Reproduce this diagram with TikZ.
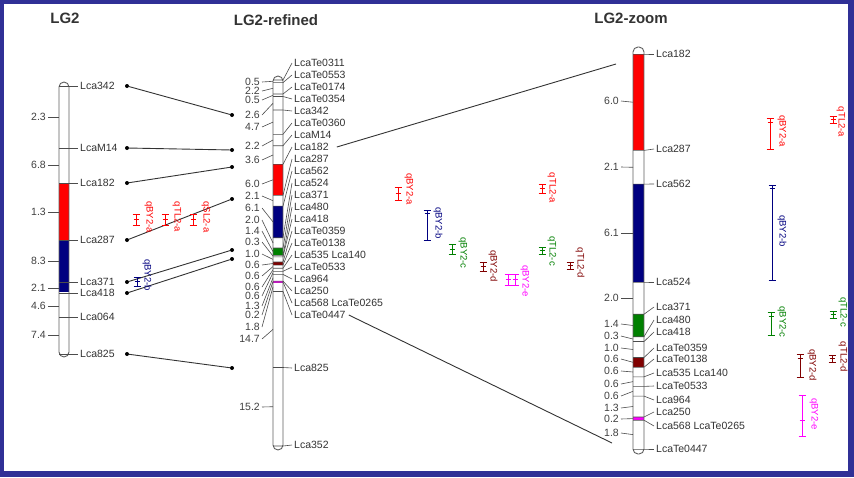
\documentclass[tikz,border=0pt]{standalone}
\usepackage{fontspec}
\setmainfont{Liberation Sans}

\definecolor{frameblue}{RGB}{48,48,150}
\definecolor{qred}{RGB}{255,0,0}
\definecolor{qnavy}{RGB}{0,0,128}
\definecolor{qgreen}{RGB}{0,128,0}
\definecolor{qdark}{RGB}{128,0,0}
\definecolor{qpink}{RGB}{255,0,255}
\definecolor{chromline}{RGB}{95,95,95}

\begin{document}
\begin{tikzpicture}[
    x=1pt, y=-1pt,
    title/.style={font=\fontsize{15}{15}\selectfont\bfseries, text=black!80},
    marker/.style={font=\fontsize{10.5}{11}\selectfont, text=black!80, anchor=west, inner sep=0pt},
    dist/.style={font=\fontsize{10.5}{11}\selectfont, text=black!75, anchor=east, inner sep=0pt},
    chrom/.style={draw=chromline, line width=0.9pt, rounded corners=5pt},
    tick/.style={draw=black!70, line width=0.6pt},
    link/.style={draw=black!80, line width=0.9pt},
    dot/.style={circle, fill=black, inner sep=0pt, minimum size=4pt},
    qtl/.style={draw=#1, line width=1pt},
    qtlname/.style={font=\fontsize{9.5}{10}\selectfont, text=#1, rotate=-90, inner sep=0pt}
]
% frame
\fill[frameblue] (0,0) rectangle (854,477);
\fill[white] (4,4) rectangle (848,471);
\useasboundingbox (0,0) rectangle (854,477);

% LG2
\node[title] (lgA) at (65,18) {LG2};
\fill[qred] (59,183) rectangle (69,240);
\fill[qnavy] (59,240) rectangle (69,292);
\draw[chrom] (59,82) rectangle (69,357);
\foreach \dv/\yy [count=\k] in {2.3/117, 6.8/165, 1.3/212, 8.3/261, 2.1/288, 4.6/306, 7.4/335}{
  \draw[tick] (48,\yy) -- (59,\yy);
  \node[dist] (aD\k) at (46,\yy) {\dv};
}
\foreach \yy/\txt [count=\k] in {86/Lca342, 148/LcaM14, 183/Lca182, 240/Lca287, 282/Lca371, 293/Lca418, 317/Lca064, 354/Lca825}{
  \draw[tick] (59,\yy) -- (78,\yy);
  \node[marker] (aM\k) at (80,\yy) {\txt};
}
\foreach \yy/\k in {86/1, 148/2, 183/3, 240/4, 282/5, 293/6, 354/8}
  \node[dot] (aP\k) at (127,\yy) {};

% LG2-refined
\node[title] (lgB) at (276,20) {LG2-refined};
\fill[qred] (273,164) rectangle (283,195);
\fill[qnavy] (273,206) rectangle (283,238);
\fill[qgreen] (273,248) rectangle (283,255);
\fill[qdark] (273,262) rectangle (283,265);
\fill[qpink] (273,281) rectangle (283,283);
\draw[chrom] (273,76) rectangle (283,450);
\foreach \pos/\yy/\txt [count=\k] in {80/63/LcaTe0311, 82.6/75/LcaTe0553, 94/87/LcaTe0174,
    96.5/99/LcaTe0354, 110/111/Lca342, 134.3/123/LcaTe0360, 145.7/135/LcaM14, 164.3/147/Lca182,
    195.3/159/Lca287, 206.1/171/Lca562, 237.7/183/Lca524, 248/195/Lca371, 255.3/207/Lca480,
    256.8/219/Lca418, 262/231/LcaTe0359, 265.1/243/LcaTe0138, 268.2/255/Lca535 Lca140,
    271.3/267/LcaTe0533, 274.4/279/Lca964, 281.1/291/Lca250, 282.1/303/Lca568 LcaTe0265,
    291.5/315/LcaTe0447, 367.5/368/Lca825, 446/445/Lca352}{
  \draw[tick] (273,\pos) -- (283,\pos) -- (292,\yy);
  \node[marker] (bM\k) at (294,\yy) {\txt};
}
\foreach \dv/\yy/\ym [count=\k] in {0.5/82/81.3, 2.2/91/88.3, 0.5/100/95.3, 2.6/115/103.3,
    4.7/127/122.1, 2.2/146/140, 3.6/160/155, 6.0/184/179.8, 2.1/196/200.7, 6.1/208/221.9,
    2.0/220/242.9, 1.4/231/251.6, 0.3/242/256, 1.0/254/259.4, 0.6/265/263.5, 0.6/276/266.6,
    0.6/287/269.7, 0.6/296/272.8, 1.3/306/277.8, 0.2/315/281.6, 1.8/327/286.8,
    14.7/339/329.4, 15.2/407/406.7}{
  \draw[tick] (262,\yy) -- (273,\ym);
  \node[dist] (bD\k) at (260,\yy) {\dv};
}
\foreach \yy/\k in {115/1, 150/2, 167/3, 199/4, 250/5, 259/6, 368/8}
  \node[dot] (bP\k) at (232,\yy) {};

% LG2 -> LG2-refined
\foreach \k in {1,2,3,4,5,6,8}
  \draw[link] (aP\k) -- (bP\k);

% LG2-zoom
\node[title] (lgC) at (631,18) {LG2-zoom};
\fill[qred] (633,54) rectangle (644,150.4);
\fill[qnavy] (633,184.1) rectangle (644,282);
\fill[qgreen] (633,314.2) rectangle (644,336.7);
\fill[qdark] (633,357.5) rectangle (644,367.2);
\fill[qpink] (633,417) rectangle (644,420.2);
\draw[chrom] (633,47) rectangle (644,454);
\foreach \pos/\yy/\txt [count=\k] in {54/54/Lca182, 150.4/149/Lca287, 184.1/184/Lca562,
    282/282/Lca524, 314.2/307/Lca371, 336.7/320/Lca480, 341.5/332/Lca418,
    357.5/348/LcaTe0359, 367.2/359/LcaTe0138, 376.8/373/Lca535 Lca140,
    386.4/386/LcaTe0533, 396.1/400/Lca964, 417/412/Lca250,
    420.2/426/Lca568 LcaTe0265, 449/449/LcaTe0447}{
  \draw[tick] (633,\pos) -- (644,\pos) -- (654,\yy);
  \node[marker] (cM\k) at (656,\yy) {\txt};
}
\foreach \dv/\yy/\ym [count=\k] in {6.0/101/102.2, 2.1/167/167.3, 6.1/233/233, 2.0/298/298,
    1.4/324/325.5, 0.3/336/339, 1.0/348/349.5, 0.6/359/362.3, 0.6/371/372, 0.6/384/381.6,
    0.6/396/391.3, 1.3/408/406.5, 0.2/419/418.6, 1.8/433/434.6}{
  \draw[tick] (621,\yy) -- (633,\ym);
  \node[dist] (cD\k) at (619,\yy) {\dv};
}

% LG2-refined -> LG2-zoom
\coordinate (zTop) at (616,64);
\coordinate (zBot) at (612,443);
\draw[link] ([xshift=8pt]bM8.east) -- (zTop);
\draw[link] ([xshift=3pt]bM22.east) -- (zBot);

% QTL intervals
\foreach \xx/\ya/\yp/\yb/\col in {136/214/219/225/qred, 165/214/219/225/qred,
    193/214/219/225/qred, 137/277/281/286/qnavy,
    398/187/193/200/qred, 427/210/213/240/qnavy, 452/244/249/254/qgreen,
    483/262/266/271/qdark, 508/274/279/285/qpink, 515/274/279/285/qpink,
    542/184/188/193/qred, 542/247/250/254/qgreen, 570/262/265/269/qdark,
    770/118/122/149/qred, 833/116/119/123/qred, 772/185/188/280/qnavy,
    771/312/316/335/qgreen, 833/311/314/318/qgreen, 800/354/358/377/qdark,
    832/355/358/362/qdark, 802/395/420/436/qpink}{
  \draw[qtl=\col] (\xx-3.5,\ya) -- (\xx+3.5,\ya) (\xx,\ya) -- (\xx,\yb)
    (\xx-3.5,\yb) -- (\xx+3.5,\yb) (\xx-2.5,\yp) -- (\xx+2.5,\yp);
}
\foreach \xx/\yy/\col/\txt [count=\k] in {149/217/qred/qBY2-a, 177/217/qred/qTL2-a,
    206/217/qred/qSL2-a, 147/275/qnavy/qBY2-b,
    409/189/qred/qBY2-a, 438/223/qnavy/qBY2-b, 463/253/qgreen/qBY2-c,
    493/266/qdark/qBY2-d, 525/281/qpink/qBY2-e, 552/188/qred/qTL2-a,
    552/251/qgreen/qTL2-c, 580/263/qdark/qTL2-d,
    782/131/qred/qBY2-a, 841/122/qred/qTL2-a, 782/231/qnavy/qBY2-b,
    782/322/qgreen/qBY2-c, 843/312/qgreen/qTL2-c, 812/365/qdark/qBY2-d,
    843/357/qdark/qTL2-d, 814/414/qpink/qBY2-e}
  \node[qtlname=\col] (q\k) at (\xx,\yy) {\txt};

\end{tikzpicture}
\end{document}
